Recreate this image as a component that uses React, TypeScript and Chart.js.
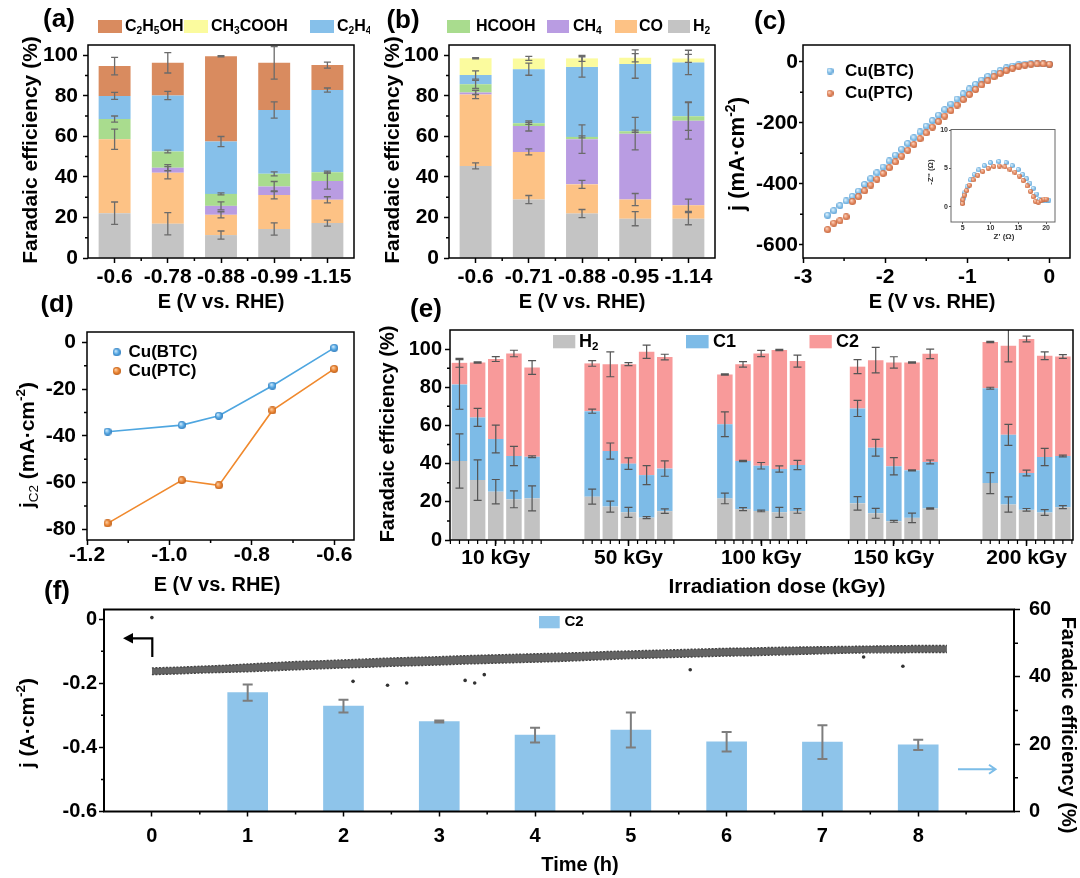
import React, { useEffect, useRef } from 'react';
import { Chart, registerables } from 'chart.js';

Chart.register(...registerables);

const FAM = '"Liberation Sans", Arial, Helvetica, sans-serif';

/* ================= DATA ================= */
/* (a) */
const potentialsA = ['-0.6', '-0.78', '-0.88', '-0.99', '-1.15'];
const h2A = [22.1, 16.9, 11.3, 14.3, 17.2];
const coA = [36.4, 25.1, 10.0, 16.8, 11.5];
const ch4A = [0, 2.5, 4.4, 4.1, 9.3];
const hcoohA = [10.0, 8.0, 5.9, 6.3, 4.3];
const c2h4A = [11.4, 27.6, 25.8, 31.5, 40.5];
const ch3coohA = [0, 0, 0, 0, 0];
const c2h5ohA = [14.7, 16.1, 42.1, 23.2, 12.3];
const h2ErrA = [5.5, 5.5, 2.0, 3.0, 1.5];
const coErrA = [5.0, 3.0, 1.5, 2.0, 1.5];
const ch4ErrA = [0, 1.5, 2.0, 2.5, 4.0];
const hcoohErrA = [1.5, 0.7, 0.5, 1.0, 0.5];
const c2h4ErrA = [1.7, 2.0, 2.5, 4.0, 1.0];
const ch3coohErrA = [0, 0, 0, 0, 0];
const c2h5ohErrA = [4.3, 5.0, 0.3, 8.0, 1.5];

/* (b) */
const potentialsB = ['-0.6', '-0.71', '-0.88', '-0.95', '-1.14'];
const h2B = [45.4, 28.8, 21.9, 19.4, 19.4];
const coB = [35.2, 23.5, 14.4, 9.4, 6.6];
const ch4B = [1.0, 12.8, 22.3, 32.5, 41.6];
const hcoohB = [4.0, 1.3, 1.1, 1.2, 2.3];
const c2h4B = [4.6, 26.7, 34.5, 33.1, 26.5];
const ch3coohB = [8.3, 5.3, 4.2, 3.1, 2.0];
const c2h5ohB = [0, 0, 0, 0, 0];
const h2ErrB = [1.5, 2.0, 2.0, 3.5, 3.0];
const coErrB = [2.0, 1.5, 2.0, 3.0, 3.0];
const ch4ErrB = [1.0, 2.5, 7.0, 8.0, 9.0];
const hcoohErrB = [2.0, 0.5, 0.5, 0.5, 7.0];
const c2h4ErrB = [2.0, 3.0, 5.0, 7.0, 6.0];
const ch3coohErrB = [0.3, 1.0, 1.5, 2.0, 2.0];
const c2h5ohErrB = [0, 0, 0, 0, 0];

const faTicks = [0, 20, 40, 60, 80, 100];
const faMinor = [10, 30, 50, 70, 90];

/* (c) LSV */
const potentialsC = [-2.7, -2.625, -2.55, -2.475, -2.4, -2.325, -2.25, -2.175, -2.1, -2.025, -1.95, -1.875, -1.8, -1.725, -1.65, -1.575, -1.5, -1.425, -1.35, -1.275, -1.2, -1.125, -1.05, -0.975, -0.9, -0.825, -0.75, -0.675, -0.6, -0.525, -0.45, -0.375, -0.3, -0.225, -0.15, -0.075, 0];
const jBTC = [-503, -488, -471, -456, -441, -424, -402, -383, -364, -345, -325, -306, -287, -268, -249, -230, -211, -193, -175, -157, -139, -122, -105, -89, -74, -60, -48, -37, -28, -20, -14, -10, -8, -7, -7, -7, -8];
const jPTC = [-550, -529, -521, -508, -458, -442, -423, -404, -385, -366, -347, -328, -309, -290, -271, -252, -233, -214, -196, -178, -160, -142, -124, -107, -91, -76, -62, -49, -38, -29, -21, -15, -11, -8, -7, -7, -8];

/* (c) inset EIS */
const zReBTC = [5.0, 5.1, 5.4, 5.8, 6.4, 7.1, 7.9, 8.9, 10.0, 11.5, 12.8, 13.9, 15.0, 15.8, 16.5, 17.1, 17.7, 18.3, 18.8, 19.4, 20.0, 20.5];
const zImBTC = [0.5, 1.1, 1.8, 2.6, 3.5, 4.2, 4.8, 5.35, 5.75, 5.9, 5.75, 5.35, 4.85, 4.2, 3.65, 3.05, 2.4, 1.65, 0.95, 0.75, 0.75, 0.85];
const zRePTC = [4.95, 5.05, 5.3, 5.7, 6.2, 6.9, 7.7, 8.6, 9.6, 10.6, 11.6, 12.6, 13.5, 14.4, 15.2, 15.9, 16.6, 17.2, 17.7, 18.1, 18.6, 19.1, 19.6, 20.0];
const zImPTC = [0.4, 0.9, 1.5, 2.1, 2.8, 3.5, 4.1, 4.6, 5.0, 5.25, 5.3, 5.2, 4.9, 4.5, 4.0, 3.4, 2.7, 2.0, 1.3, 0.7, 0.6, 0.8, 1.0, 1.0];

/* (d) partial current density */
const potentialsD = [-1.15, -0.97, -0.88, -0.75, -0.6];
const jC2BTC = [-38.2, -35.4, -31.4, -18.5, -2.3];
const jC2PTC = [-77.5, -59.0, -61.2, -29.1, -11.3];

/* (e) irradiation dose */
const doseLabels = ['10 kGy', '50 kGy', '100 kGy', '150 kGy', '200 kGy'];
const h2E = [
  [41.4, 31.4, 25.3, 21.3, 21.8],
  [22.7, 17.5, 14.5, 11.7, 15.1],
  [21.8, 16.2, 15.2, 14.5, 15.2],
  [19.2, 14.0, 9.8, 11.6, 16.5],
  [29.8, 18.6, 15.8, 14.4, 17.2],
];
const c1E = [
  [40.1, 32.8, 27.6, 22.7, 21.8],
  [44.8, 29.1, 25.5, 22.3, 22.3],
  [38.8, 25.2, 23.7, 22.7, 24.1],
  [49.7, 34.3, 28.8, 24.9, 24.4],
  [49.7, 36.5, 19.3, 29.1, 26.8],
];
const c2E = [
  [11.3, 28.8, 41.9, 53.7, 46.8],
  [25.0, 45.4, 52.1, 64.6, 58.4],
  [26.1, 50.6, 58.8, 62.3, 54.4],
  [21.9, 45.9, 54.4, 56.5, 56.6],
  [24.2, 46.7, 70.2, 53.0, 52.1],
];
const h2ErrE = [
  [14.2, 10.6, 6.4, 4.4, 6.5],
  [3.9, 2.9, 2.6, 0.5, 1.2],
  [2.8, 0.8, 0.4, 2.6, 1.2],
  [3.5, 2.6, 0.5, 2.5, 0.3],
  [5.5, 4.0, 0.7, 1.5, 0.8],
];
const c1ErrE = [
  [13.0, 4.7, 7.3, 5.0, 0.5],
  [1.1, 4.2, 3.0, 5.0, 4.0],
  [6.5, 0.3, 1.7, 1.6, 2.4],
  [4.2, 4.4, 4.5, 0.3, 1.0],
  [0.5, 5.5, 1.5, 4.5, 0.5],
];
const c2ErrE = [
  [2.3, 0.3, 1.3, 1.7, 3.6],
  [1.5, 6.5, 0.8, 3.5, 1.5],
  [0.3, 1.4, 1.6, 0.3, 3.1],
  [3.7, 6.7, 3.0, 0.3, 2.5],
  [0.3, 8.5, 1.5, 2.0, 1.0],
];

/* (f) stability */
const hoursF = [1, 2, 3, 4, 5, 6, 7, 8];
const feC2F = [35.3, 31.3, 26.7, 22.7, 24.2, 20.7, 20.6, 19.8];
const errC2F = [2.4, 1.9, 0.3, 2.2, 5.2, 2.9, 5.0, 1.5];
const bandTime = [0, 0.25, 0.5, 0.75, 1, 1.25, 1.5, 1.75, 2, 2.25, 2.5, 2.75, 3, 3.25, 3.5, 3.75, 4, 4.25, 4.5, 4.75, 5, 5.25, 5.5, 5.75, 6, 6.25, 6.5, 6.75, 7, 7.25, 7.5, 7.75, 8, 8.3];
const bandUpper = [-0.152, -0.150, -0.147, -0.144, -0.140, -0.136, -0.132, -0.130, -0.127, -0.124, -0.121, -0.119, -0.117, -0.114, -0.112, -0.110, -0.108, -0.106, -0.104, -0.101, -0.099, -0.097, -0.095, -0.093, -0.091, -0.090, -0.088, -0.087, -0.086, -0.085, -0.084, -0.083, -0.082, -0.082];
const bandLower = [-0.173, -0.171, -0.168, -0.166, -0.164, -0.161, -0.158, -0.155, -0.152, -0.150, -0.147, -0.145, -0.143, -0.140, -0.138, -0.136, -0.134, -0.132, -0.129, -0.126, -0.123, -0.121, -0.119, -0.117, -0.115, -0.114, -0.112, -0.110, -0.108, -0.106, -0.105, -0.105, -0.104, -0.104];
const outlierTime = [0, 2.1, 2.46, 2.66, 3.27, 3.37, 3.47, 5.62, 7.43, 7.84];
const outlierJ = [0.005, -0.194, -0.206, -0.199, -0.191, -0.199, -0.173, -0.158, -0.118, -0.147];

/* ================= STYLE ================= */
const productKeys = ['H2', 'CO', 'CH4', 'HCOOH', 'C2H4', 'CH3COOH', 'C2H5OH'];
const productColors: Record<string, string> = {
  H2: '#c4c4c4', CO: '#fdc285', CH4: '#b99ce2', HCOOH: '#a9dc8e',
  C2H4: '#86c0ea', CH3COOH: '#fbfb9e', C2H5OH: '#d98b5f',
};
const colH2E = '#c2c2c2', colC1E = '#7dbbe7', colC2E = '#f89a9a', colBarF = '#8ec4ea';

type Rect = { x: number; y: number; w: number; h: number };
type Frame = { l: number; t: number; r: number; b: number };
type Seg = { t: string; k?: 'sub' | 'sup'; w?: string };

const cA: Rect = { x: 0, y: 0, w: 370, h: 318 };
const fA: Frame = { l: 88, t: 45, r: 354, b: 258 };
const cB: Rect = { x: 365, y: 0, w: 360, h: 318 };
const fB: Frame = { l: 449, t: 45, r: 715, b: 258 };
const cC: Rect = { x: 725, y: 0, w: 355, h: 318 };
const fC: Frame = { l: 803, t: 45, r: 1070, b: 258 };
const cI: Rect = { x: 912, y: 120, w: 156, h: 125 };
const fI: Frame = { l: 951, t: 129.5, r: 1055, b: 222 };
const cD: Rect = { x: 0, y: 295, w: 365, h: 305 };
const fD: Frame = { l: 87, t: 332, r: 354, b: 540 };
const cE: Rect = { x: 365, y: 295, w: 715, h: 305 };
const fE: Frame = { l: 450, t: 330, r: 1073, b: 540 };
const cF: Rect = { x: 0, y: 568, w: 1080, h: 310 };
const fF: Frame = { l: 104, t: 609.5, r: 1014, b: 811.5 };

/* ================= HELPERS ================= */
function chem(s: string): Seg[] {
  const out: Seg[] = [];
  for (const ch of s) {
    const isD = ch >= '0' && ch <= '9';
    const last = out[out.length - 1];
    if (last && (!!last.k) === isD) last.t += ch;
    else out.push(isD ? { t: ch, k: 'sub' } : { t: ch });
  }
  return out;
}

function segFont(size: number, s: Seg, weight: string) {
  const sz = s.k ? size * 0.64 : size;
  return `${s.w ?? weight} ${sz}px ${FAM}`;
}

function rich(ctx: CanvasRenderingContext2D, segs: Seg[], x: number, y: number, size: number,
  align: 'left' | 'center' | 'right' = 'center', rot = 0, weight = 'bold', color = '#000') {
  ctx.save();
  ctx.translate(x, y);
  if (rot) ctx.rotate(rot);
  let W = 0;
  for (const s of segs) { ctx.font = segFont(size, s, weight); W += ctx.measureText(s.t).width; }
  let cx = align === 'center' ? -W / 2 : align === 'right' ? -W : 0;
  ctx.textBaseline = 'middle';
  ctx.textAlign = 'left';
  ctx.fillStyle = color;
  for (const s of segs) {
    ctx.font = segFont(size, s, weight);
    const dy = s.k === 'sub' ? size * 0.3 : s.k === 'sup' ? -size * 0.33 : 0;
    ctx.fillText(s.t, cx, dy);
    cx += ctx.measureText(s.t).width;
  }
  ctx.restore();
}

function txt(ctx: CanvasRenderingContext2D, s: string, x: number, y: number, size: number,
  align: 'left' | 'center' | 'right' = 'center', rot = 0) {
  rich(ctx, [{ t: s }], x, y, size, align, rot);
}

function box(ctx: CanvasRenderingContext2D, x: number, y: number, w: number, h: number, col: string) {
  ctx.fillStyle = col;
  ctx.fillRect(x, y, w, h);
}

function sphere(d: number, hi: string, base: string, edge: string) {
  const c = document.createElement('canvas');
  c.width = d; c.height = d;
  const g = c.getContext('2d') as CanvasRenderingContext2D;
  const r = d / 2;
  const grad = g.createRadialGradient(r * 0.7, r * 0.65, r * 0.05, r, r, r);
  grad.addColorStop(0, hi);
  grad.addColorStop(0.55, base);
  grad.addColorStop(1, edge);
  g.fillStyle = grad;
  g.beginPath(); g.arc(r, r, r, 0, Math.PI * 2); g.fill();
  return c;
}

function fixW(w: number) { return (s: any) => { s.width = w; }; }
function fixH(h: number) { return (s: any) => { s.height = h; }; }
function setTicks(vals: number[]) { return (s: any) => { s.ticks = vals.map((v) => ({ value: v })); }; }

function axis(o: { size: number; pad: number; tl?: number; tw?: number; tc?: string; fit: (s: any) => void;
  ticks?: number[]; cb?: (v: any) => string; extra?: any; weight?: string; color?: string }) {
  const a: any = {
    border: { display: false },
    grid: { display: true, drawOnChartArea: false, drawTicks: true, tickLength: o.tl ?? 5,
      tickWidth: o.tw ?? 1.5, tickColor: o.tc ?? '#000', offset: false },
    ticks: { font: { family: FAM, size: o.size, weight: o.weight ?? 'bold' }, color: o.color ?? '#000',
      padding: o.pad, autoSkip: false, maxRotation: 0, minRotation: 0 },
    afterFit: o.fit,
    ...(o.extra || {}),
  };
  if (o.ticks) a.afterBuildTicks = setTicks(o.ticks);
  if (o.cb) a.ticks.callback = o.cb;
  return a;
}

function common(c: Rect, f: Frame, rightAxis = false) {
  return {
    responsive: false,
    animation: false,
    devicePixelRatio: 1,
    events: [],
    layout: { padding: { left: 0, top: f.t - c.y, right: rightAxis ? 0 : c.x + c.w - f.r, bottom: 0 } },
    plugins: { legend: { display: false }, tooltip: { enabled: false }, title: { display: false } },
  };
}

type Minor = { id: string; vals?: number[]; px?: (ch: any) => number[]; len: number; side: 'l' | 'r' | 'b'; w?: number; color?: string };
type ErrOpt = { color: string; w: number; cap: number };

function drawErrors(ch: any, e: ErrOpt) {
  const ctx = ch.ctx as CanvasRenderingContext2D;
  const a = ch.chartArea;
  ctx.save();
  ctx.beginPath();
  ctx.rect(a.left, a.top, a.right - a.left, a.bottom - a.top);
  ctx.clip();
  ctx.strokeStyle = e.color;
  ctx.lineWidth = e.w;
  ch.data.datasets.forEach((ds: any, i: number) => {
    if (!ds.errors) return;
    const meta = ch.getDatasetMeta(i);
    const ys = ch.scales[meta.yAxisID];
    meta.data.forEach((el: any, k: number) => {
      const err = ds.errors[k];
      const raw = ds.data[k];
      const val = typeof raw === 'number' ? raw : raw && raw.y;
      if (!err || !val) return;
      const top = ys.getValueForPixel(el.y);
      const p1 = ys.getPixelForValue(top + err);
      const p2 = ys.getPixelForValue(top - err);
      const x = el.x;
      ctx.beginPath();
      ctx.moveTo(x, p1); ctx.lineTo(x, p2);
      ctx.moveTo(x - e.cap, p1); ctx.lineTo(x + e.cap, p1);
      ctx.moveTo(x - e.cap, p2); ctx.lineTo(x + e.cap, p2);
      ctx.stroke();
    });
  });
  ctx.restore();
}

function decor(c: Rect, o: { frameW?: number; frameColor?: string; err?: ErrOpt; minors?: Minor[];
  draw?: (ctx: CanvasRenderingContext2D, ch: any) => void }) {
  return {
    id: 'decor',
    afterDatasetsDraw(ch: any) {
      const ctx = ch.ctx as CanvasRenderingContext2D;
      const a = ch.chartArea;
      if (o.err) drawErrors(ch, o.err);
      ctx.save();
      for (const m of o.minors || []) {
        const sc = ch.scales[m.id];
        const pxs = m.px ? m.px(ch) : (m.vals || []).map((v) => sc.getPixelForValue(v));
        ctx.strokeStyle = m.color ?? '#000';
        ctx.lineWidth = m.w ?? 1.5;
        ctx.beginPath();
        for (const p of pxs) {
          if (m.side === 'l') { ctx.moveTo(a.left, p); ctx.lineTo(a.left - m.len, p); }
          else if (m.side === 'r') { ctx.moveTo(a.right, p); ctx.lineTo(a.right + m.len, p); }
          else { ctx.moveTo(p, a.bottom); ctx.lineTo(p, a.bottom + m.len); }
        }
        ctx.stroke();
      }
      ctx.strokeStyle = o.frameColor ?? '#000';
      ctx.lineWidth = o.frameW ?? 1.5;
      ctx.strokeRect(a.left, a.top, a.right - a.left, a.bottom - a.top);
      ctx.restore();
    },
    afterDraw(ch: any) {
      if (!o.draw) return;
      const ctx = ch.ctx as CanvasRenderingContext2D;
      ctx.save();
      ctx.translate(-c.x, -c.y);
      o.draw(ctx, ch);
      ctx.restore();
    },
  };
}

/* ================= PANELS ================= */
function makeStacked(labels: string[], vals: number[][], errs: number[][], c: Rect, f: Frame,
  draw: (ctx: CanvasRenderingContext2D) => void) {
  return {
    type: 'bar',
    data: {
      labels,
      datasets: productKeys.map((k, i) => ({
        label: k, data: vals[i], errors: errs[i], backgroundColor: productColors[k],
        borderWidth: 0, barPercentage: 0.6, categoryPercentage: 1,
      })),
    },
    options: {
      ...common(c, f),
      scales: {
        x: axis({ size: 21, pad: 2, fit: fixH(c.y + c.h - f.b), extra: { type: 'category', offset: true, stacked: true } }),
        y: axis({ size: 21, pad: 5, fit: fixW(f.l - c.x), ticks: faTicks, extra: { type: 'linear', min: 0, max: 105, stacked: true } }),
      },
    },
    plugins: [decor(c, {
      err: { color: '#6b6b6b', w: 1.3, cap: 3.5 },
      minors: [
        { id: 'y', vals: faMinor, len: 3, side: 'l' },
        { id: 'x', vals: [0.5, 1.5, 2.5, 3.5], len: 3, side: 'b' },
      ],
      draw,
    })],
  };
}

function makeA() {
  return makeStacked(potentialsA,
    [h2A, coA, ch4A, hcoohA, c2h4A, ch3coohA, c2h5ohA],
    [h2ErrA, coErrA, ch4ErrA, hcoohErrA, c2h4ErrA, ch3coohErrA, c2h5ohErrA], cA, fA, (ctx) => {
      txt(ctx, '(a)', 59, 20, 26);
      box(ctx, 98, 20, 24, 13, productColors.C2H5OH); rich(ctx, chem('C2H5OH'), 125, 26.5, 16, 'left');
      box(ctx, 184, 20, 24, 13, productColors.CH3COOH); rich(ctx, chem('CH3COOH'), 211, 26.5, 16, 'left');
      box(ctx, 310, 20, 24, 13, productColors.C2H4); rich(ctx, chem('C2H4'), 337, 26.5, 16, 'left');
      txt(ctx, 'Faradaic efficiency (%)', 31, 150, 21, 'center', -Math.PI / 2);
      txt(ctx, 'E (V vs. RHE)', 221, 302, 20);
    });
}

function makeB() {
  return makeStacked(potentialsB,
    [h2B, coB, ch4B, hcoohB, c2h4B, ch3coohB, c2h5ohB],
    [h2ErrB, coErrB, ch4ErrB, hcoohErrB, c2h4ErrB, ch3coohErrB, c2h5ohErrB], cB, fB, (ctx) => {
      txt(ctx, '(b)', 403, 21, 26);
      box(ctx, 447, 20, 23, 13, productColors.HCOOH); rich(ctx, chem('HCOOH'), 476, 26.5, 16, 'left');
      box(ctx, 547, 20, 22, 13, productColors.CH4); rich(ctx, chem('CH4'), 573, 26.5, 16, 'left');
      box(ctx, 615, 20, 22, 13, productColors.CO); rich(ctx, chem('CO'), 639, 26.5, 16, 'left');
      box(ctx, 668, 20, 22, 13, productColors.H2); rich(ctx, chem('H2'), 693, 26.5, 16, 'left');
      txt(ctx, 'Faradaic efficiency (%)', 393, 150, 21, 'center', -Math.PI / 2);
      txt(ctx, 'E (V vs. RHE)', 582, 302, 20);
    });
}

function makeC() {
  const sB = sphere(7, '#eaf6fe', '#92c8ec', '#5a9fd4');
  const sP = sphere(7, '#fcd9c5', '#e88f68', '#c4643a');
  return {
    type: 'scatter',
    data: {
      datasets: [
        { label: 'Cu(PTC)', data: potentialsC.map((e, i) => ({ x: e, y: jPTC[i] })), pointStyle: sP, pointRadius: 3.5, showLine: false },
        { label: 'Cu(BTC)', data: potentialsC.map((e, i) => ({ x: e, y: jBTC[i] })), pointStyle: sB, pointRadius: 3.5, showLine: false },
      ],
    },
    options: {
      ...common(cC, fC),
      scales: {
        x: axis({ size: 21, pad: 2, fit: fixH(cC.y + cC.h - fC.b), ticks: [-3, -2, -1, 0], extra: { type: 'linear', min: -3, max: 0.25 } }),
        y: axis({ size: 21, pad: 1, tl: 4, fit: fixW(fC.l - cC.x), ticks: [0, -200, -400, -600], extra: { type: 'linear', min: -643, max: 55 } }),
      },
    },
    plugins: [decor(cC, {
      minors: [
        { id: 'y', vals: [-100, -300, -500], len: 3, side: 'l' },
        { id: 'x', vals: [-2.5, -1.5, -0.5], len: 3, side: 'b' },
      ],
      draw: (ctx) => {
        txt(ctx, '(c)', 770, 22, 26);
        ctx.drawImage(sB, 830 - 3.5, 71 - 3.5);
        ctx.drawImage(sP, 830 - 3.5, 93.3 - 3.5);
        txt(ctx, 'Cu(BTC)', 845, 71, 17, 'left');
        txt(ctx, 'Cu(PTC)', 845, 93.3, 17, 'left');
        rich(ctx, [{ t: 'j (mA·cm' }, { t: '-2', k: 'sup' }, { t: ')' }], 738, 154, 22, 'center', -Math.PI / 2);
        txt(ctx, 'E (V vs. RHE)', 932, 302, 20);
      },
    })],
  };
}

function makeInset() {
  const sB = sphere(5, '#eaf6fe', '#92c8ec', '#5a9fd4');
  const sP = sphere(5, '#fcd9c5', '#e88f68', '#c4643a');
  return {
    type: 'scatter',
    data: {
      datasets: [
        { label: 'Cu(PTC)', data: zRePTC.map((z, i) => ({ x: z, y: zImPTC[i] })), pointStyle: sP, pointRadius: 2.5 },
        { label: 'Cu(BTC)', data: zReBTC.map((z, i) => ({ x: z, y: zImBTC[i] })), pointStyle: sB, pointRadius: 2.5 },
      ],
    },
    options: {
      ...common(cI, fI),
      scales: {
        x: axis({ size: 7, pad: 0, tl: 2, tw: 1, tc: '#555', color: '#333', fit: fixH(cI.y + cI.h - fI.b), ticks: [5, 10, 15, 20], extra: { type: 'linear', min: 2.9, max: 21.6 } }),
        y: axis({ size: 7, pad: 1, tl: 2, tw: 1, tc: '#555', color: '#333', fit: fixW(fI.l - cI.x), ticks: [0, 5, 10], extra: { type: 'linear', min: -2, max: 10.07 } }),
      },
    },
    plugins: [decor(cI, {
      frameW: 1, frameColor: '#666',
      draw: (ctx) => {
        rich(ctx, [{ t: "Z' (Ω)" }], 1004, 237, 8, 'center', 0, 'bold', '#333');
        rich(ctx, [{ t: "-Z'' (Ω)" }], 931, 172, 8, 'center', -Math.PI / 2, 'bold', '#333');
      },
    })],
  };
}

function makeD() {
  const sB = sphere(8, '#d8eefc', '#5dade6', '#2f7cbd');
  const sP = sphere(8, '#fcd3ab', '#ee8a3a', '#bf5f18');
  return {
    type: 'line',
    data: {
      datasets: [
        { label: 'Cu(BTC)', data: potentialsD.map((e, i) => ({ x: e, y: jC2BTC[i] })), borderColor: '#4ea6e0', borderWidth: 1.6, pointStyle: sB, pointRadius: 4, tension: 0, fill: false },
        { label: 'Cu(PTC)', data: potentialsD.map((e, i) => ({ x: e, y: jC2PTC[i] })), borderColor: '#f0892d', borderWidth: 1.6, pointStyle: sP, pointRadius: 4, tension: 0, fill: false },
      ],
    },
    options: {
      ...common(cD, fD),
      scales: {
        x: axis({ size: 21, pad: -2, fit: fixH(cD.y + cD.h - fD.b), ticks: [-1.2, -1.0, -0.8, -0.6], cb: (v: any) => Number(v).toFixed(1), extra: { type: 'linear', min: -1.2, max: -0.552 } }),
        y: axis({ size: 21, pad: 6, fit: fixW(fD.l - cD.x), ticks: [0, -20, -40, -60, -80], extra: { type: 'linear', min: -84.6, max: 4.5 } }),
      },
    },
    plugins: [decor(cD, {
      minors: [
        { id: 'y', vals: [-10, -30, -50, -70], len: 3, side: 'l' },
        { id: 'x', vals: [-1.1, -0.9, -0.7], len: 3, side: 'b' },
      ],
      draw: (ctx) => {
        txt(ctx, '(d)', 57, 305, 26);
        ctx.drawImage(sB, 116.7 - 4, 352.3 - 4);
        ctx.drawImage(sP, 116.7 - 4, 371 - 4);
        txt(ctx, 'Cu(BTC)', 128.5, 352.3, 17, 'left');
        txt(ctx, 'Cu(PTC)', 128.5, 371, 17, 'left');
        rich(ctx, [{ t: 'j' }, { t: 'C2', k: 'sub', w: 'normal' }, { t: ' (mA·cm' }, { t: '-2', k: 'sup' }, { t: ')' }], 28, 445, 21, 'center', -Math.PI / 2);
        txt(ctx, 'E (V vs. RHE)', 217, 585, 20);
      },
    })],
  };
}

function makeE() {
  const sets: any[] = [];
  for (let r = 0; r < 5; r++) {
    const parts: [string, number[][], number[][], string][] = [
      ['H2', h2E, h2ErrE, colH2E], ['C1', c1E, c1ErrE, colC1E], ['C2', c2E, c2ErrE, colC2E],
    ];
    parts.forEach(([lab, v, e, col]) => {
      sets.push({
        label: lab, stack: 'run' + r,
        data: doseLabels.map((_, g) => ({ x: g + 1, y: v[g][r] })),
        errors: doseLabels.map((_, g) => e[g][r]),
        backgroundColor: col, borderWidth: 0, categoryPercentage: 0.684, barPercentage: 0.854,
      });
    });
  }
  return {
    type: 'bar',
    data: { datasets: sets },
    options: {
      ...common(cE, fE),
      scales: {
        x: axis({ size: 21, pad: 0, tl: 6, fit: fixH(cE.y + cE.h - fE.b), ticks: [1, 2, 3, 4, 5],
          cb: (v: any) => doseLabels[Math.round(Number(v)) - 1] ?? '', extra: { type: 'linear', min: 0.655, max: 5.35, offset: false } }),
        y: axis({ size: 20, pad: 3, fit: fixW(fE.l - cE.x), ticks: faTicks, extra: { type: 'linear', min: 0, max: 110, stacked: true } }),
      },
    },
    plugins: [decor(cE, {
      err: { color: '#555', w: 1.2, cap: 4 },
      minors: [
        { id: 'y', vals: faMinor, len: 3, side: 'l' },
        {
          id: 'x', len: 4, side: 'b', w: 1.2,
          px: (ch: any) => {
            const xs: number[] = [];
            ch.data.datasets.forEach((ds: any, i: number) => {
              if (ds.label === 'H2') ch.getDatasetMeta(i).data.forEach((el: any) => xs.push(el.x));
            });
            xs.sort((p, q) => p - q);
            const out: number[] = [];
            for (let g = 0; g + 4 < xs.length; g += 5) {
              const grp = xs.slice(g, g + 5);
              const d = grp[1] - grp[0];
              grp.forEach((x) => { out.push(x); out.push(x - d / 2); });
              out.push(grp[4] + d / 2);
            }
            return out;
          },
        },
      ],
      draw: (ctx) => {
        txt(ctx, '(e)', 426, 310, 26);
        box(ctx, 553, 335, 22.3, 13.3, colH2E); rich(ctx, chem('H2'), 579, 341.7, 18, 'left');
        box(ctx, 686, 335, 22.6, 13.3, colC1E); txt(ctx, 'C1', 713, 341.7, 18, 'left');
        box(ctx, 809.5, 335, 22.3, 13.3, colC2E); txt(ctx, 'C2', 836, 341.7, 18, 'left');
        txt(ctx, 'Faradaic efficiency (%)', 388, 434, 20, 'center', -Math.PI / 2);
        txt(ctx, 'Irradiation dose (kGy)', 777, 587, 21);
      },
    })],
  };
}

function makeF() {
  return {
    type: 'bar',
    data: {
      datasets: [
        { type: 'line', label: 'j upper', data: bandTime.map((t, i) => ({ x: t, y: bandUpper[i] })), yAxisID: 'y',
          borderColor: '#444', borderWidth: 1.4, borderDash: [2, 1.5], pointRadius: 0, tension: 0, fill: false },
        { type: 'line', label: 'j lower', data: bandTime.map((t, i) => ({ x: t, y: bandLower[i] })), yAxisID: 'y',
          borderColor: '#444', borderWidth: 1.4, borderDash: [2, 1.5], pointRadius: 0, tension: 0, fill: '-1', backgroundColor: '#646464' },
        { type: 'scatter', label: 'j outliers', data: outlierTime.map((t, i) => ({ x: t, y: outlierJ[i] })), yAxisID: 'y',
          pointRadius: 1.8, pointBackgroundColor: '#333', pointBorderWidth: 0, backgroundColor: '#333' },
        { type: 'bar', label: 'C2', data: hoursF.map((t, i) => ({ x: t, y: feC2F[i] })), errors: errC2F, yAxisID: 'y2',
          backgroundColor: colBarF, borderWidth: 0, barThickness: 40 },
      ],
    },
    options: {
      ...common(cF, fF, true),
      scales: {
        x: axis({ size: 20, pad: 8, fit: fixH(cF.y + cF.h - fF.b), ticks: [0, 1, 2, 3, 4, 5, 6, 7, 8], extra: { type: 'linear', min: -0.5, max: 9, offset: false } }),
        y: axis({ size: 20, pad: 2, fit: fixW(fF.l - cF.x), ticks: [0, -0.2, -0.4, -0.6],
          cb: (v: any) => (Number(v) === 0 ? '0' : Number(v).toFixed(1)), extra: { type: 'linear', position: 'left', min: -0.6, max: 0.0302 } }),
        y2: axis({ size: 20, pad: 9, tl: 6, fit: fixW(cF.x + cF.w - fF.r), ticks: [0, 20, 40, 60], extra: { type: 'linear', position: 'right', min: 0, max: 60 } }),
      },
    },
    plugins: [decor(cF, {
      frameW: 2,
      err: { color: '#7d7d7d', w: 2, cap: 5 },
      minors: [
        { id: 'y', vals: [-0.1, -0.3, -0.5], len: 3, side: 'l' },
        { id: 'y2', vals: [10, 30, 50], len: 4, side: 'r' },
        { id: 'x', vals: [0.5, 1.5, 2.5, 3.5, 4.5, 5.5, 6.5, 7.5, 8.5], len: 3, side: 'b' },
      ],
      draw: (ctx) => {
        txt(ctx, '(f)', 57, 592, 26);
        box(ctx, 539, 616, 20.7, 12.3, colBarF); txt(ctx, 'C2', 564.4, 622.3, 15, 'left');
        rich(ctx, [{ t: 'j (A·cm' }, { t: '-2', k: 'sup' }, { t: ')' }], 28, 723, 21, 'center', -Math.PI / 2);
        txt(ctx, 'Faradaic efficiency (%)', 1068, 725, 20, 'center', Math.PI / 2);
        txt(ctx, 'Time (h)', 580, 865, 20);
        // left-pointing black arrow (current axis)
        ctx.strokeStyle = '#000'; ctx.lineWidth = 2.2;
        ctx.beginPath(); ctx.moveTo(131, 638.3); ctx.lineTo(152.3, 638.3); ctx.lineTo(152.3, 657); ctx.stroke();
        ctx.fillStyle = '#000';
        ctx.beginPath(); ctx.moveTo(123, 638.3); ctx.lineTo(133, 633); ctx.lineTo(133, 643.6); ctx.closePath(); ctx.fill();
        // right-pointing blue arrow (FE axis)
        ctx.strokeStyle = '#7cbde8'; ctx.lineWidth = 2;
        ctx.beginPath(); ctx.moveTo(958, 769.3); ctx.lineTo(995, 769.3);
        ctx.moveTo(989, 764.8); ctx.lineTo(995.5, 769.3); ctx.lineTo(989, 773.8); ctx.stroke();
      },
    })],
  };
}

/* ================= REACT ================= */
function Panel({ rect, make }: { rect: Rect; make: () => any }) {
  const ref = useRef<HTMLCanvasElement | null>(null);
  useEffect(() => {
    const ch = new Chart(ref.current as HTMLCanvasElement, make());
    return () => ch.destroy();
  }, []);
  return (
    <canvas ref={ref} width={rect.w} height={rect.h}
      style={{ position: 'absolute', left: rect.x, top: rect.y, width: rect.w, height: rect.h }} />
  );
}

export default function App() {
  return (
    <div style={{ position: 'fixed', left: 0, top: 0, width: 1080, height: 878, background: '#fff', overflow: 'hidden' }}>
      <Panel rect={cA} make={makeA} />
      <Panel rect={cB} make={makeB} />
      <Panel rect={cC} make={makeC} />
      <Panel rect={cI} make={makeInset} />
      <Panel rect={cD} make={makeD} />
      <Panel rect={cE} make={makeE} />
      <Panel rect={cF} make={makeF} />
    </div>
  );
}
